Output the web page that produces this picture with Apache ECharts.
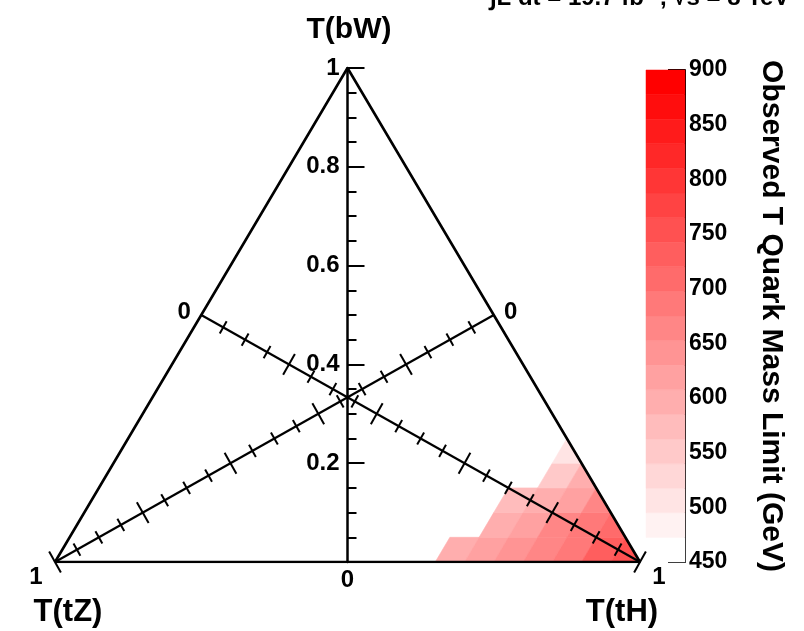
<!DOCTYPE html>
<html>
<head>
<meta charset="utf-8">
<script src="https://cdn.jsdelivr.net/npm/echarts@6/dist/echarts.min.js"></script>
<style>
  html, body { margin: 0; padding: 0; background: #fff; }
  #chart { width: 804px; height: 631px; }
</style>
</head>
<body>
<div id="chart"></div>
<script>
// Ternary plot of T-quark branching fractions (bW, tZ, tH) coloured by the observed mass limit.

// Vertical T(bW) axis labels (0 is drawn below the axis)
const bwTickLabels = ['0.2', '0.4', '0.6', '0.8', '1'];
const bwZeroLabel = '0';

// Tick positions along the two diagonal axes (branching fraction)
const diagTicks = [0.05, 0.1, 0.15, 0.2, 0.25, 0.3, 0.35, 0.4, 0.45, 0.5,
                   0.55, 0.6, 0.65, 0.7, 0.75, 0.8, 0.85, 0.9, 0.95, 1.0];
const diagMajor = [0.2, 0.4, 0.6, 0.8, 1.0];
const diagEndLabels = ['0', '1'];

// Corner titles
const cornerTitles = { bW: 'T(bW)', tZ: 'T(tZ)', tH: 'T(tH)' };

// Colour scale of the observed limit (GeV)
const limitTicks = [450, 500, 550, 600, 650, 700, 750, 800, 850, 900];
const limitLevels = [450, 472.5, 495, 517.5, 540, 562.5, 585, 607.5, 630, 652.5, 675,
                     697.5, 720, 742.5, 765, 787.5, 810, 832.5, 855, 877.5, 900];
const limitTitle = 'Observed T Quark Mass Limit (GeV)';
const lumiText = '\u222BL dt = 19.7 fb\u207B\u00B9, \u221As = 8 TeV';

// Observed limit cells: each row starts at bW = rowBW, columns start at rowStartTH
// and step in tH by cellStep; values in GeV
const cellStep = 0.05;
const rowBW = [0.00, 0.05, 0.10, 0.15, 0.20];
const rowStartTH = [0.65, 0.70, 0.70, 0.75, 0.75];
const rowLimits = [
  [590, 615, 640, 665, 690, 720, 755],
  [600, 625, 655, 685, 715],
  [565, 595, 625, 660],
  [545, 585],
  [515]
];

// Ternary corners (tH, bW) for the frame
const cornerTZ = [0, 0];
const cornerTH = [1, 0];
const cornerBW = [0, 1];

const FONT = '"Liberation Sans", Arial, Helvetica, sans-serif';

// (tH, bW) -> plane coordinates, X = tH - tZ, Y = bW
function toXY(tH, bW) {
  const tZ = 1 - tH - bW;
  return [tH - tZ, bW];
}

function bandIndex(v) {
  for (let i = 0; i < limitLevels.length - 1; i++) {
    if (v < limitLevels[i + 1]) return i;
  }
  return limitLevels.length - 2;
}
function bandColor(i) {
  const n = limitLevels.length - 2;
  const g = Math.round(255 * (1 - i / n));
  return 'rgb(255,' + g + ',' + g + ')';
}

const cellData = [];
rowBW.forEach(function (b, r) {
  rowLimits[r].forEach(function (lim, c) {
    cellData.push([rowStartTH[r] + c * cellStep, b, lim]);
  });
});

const bandData = [];
for (let i = 0; i < limitLevels.length - 1; i++) {
  bandData.push([limitLevels[i], limitLevels[i + 1], i]);
}

function renderCell(params, api) {
  const h0 = api.value(0), b0 = api.value(1);
  const h1 = h0 + cellStep, b1 = b0 + cellStep;
  const poly = [[h0, b0], [h1, b0], [h1, b1], [h0, b1]];
  const out = [];
  const eps = 1e-9;
  for (let i = 0; i < poly.length; i++) {
    const p = poly[i], q = poly[(i + 1) % poly.length];
    const fp = 1 - p[0] - p[1], fq = 1 - q[0] - q[1];
    if (fp >= -eps) out.push(p);
    if ((fp > eps && fq < -eps) || (fp < -eps && fq > eps)) {
      const t = fp / (fp - fq);
      out.push([p[0] + t * (q[0] - p[0]), p[1] + t * (q[1] - p[1])]);
    }
  }
  if (out.length < 3) return null;
  const pts = out.map(function (p) { return api.coord(toXY(p[0], p[1])); });
  const col = bandColor(bandIndex(api.value(2)));
  return { type: 'polygon', shape: { points: pts }, style: { fill: col, stroke: col, lineWidth: 0.6 } };
}

function textEl(x, y, text, size) {
  return {
    type: 'text', x: x, y: y,
    style: {
      text: text, fill: '#000', font: 'bold ' + size + 'px ' + FONT,
      align: 'center', verticalAlign: 'middle', textAlign: 'center', textVerticalAlign: 'middle'
    }
  };
}

function isMajor(v) {
  return diagMajor.some(function (m) { return Math.abs(m - v) < 1e-6; });
}

// One diagonal axis per item: sign +1 for T(tH), -1 for T(tZ)
function renderDiag(params, api) {
  const s = api.value(0);
  const pt = function (v) { return api.coord([s * (3 * v - 1) / 2, (1 - v) / 2]); };
  const p0 = pt(0), p1 = pt(1);
  const dx = p1[0] - p0[0], dy = p1[1] - p0[1], L = Math.hypot(dx, dy);
  const nx = -dy / L, ny = dx / L;
  const children = [{
    type: 'line', shape: { x1: p0[0], y1: p0[1], x2: p1[0], y2: p1[1] },
    style: { stroke: '#000', lineWidth: 2.2 }
  }];
  diagTicks.forEach(function (v) {
    const c = pt(v);
    const half = isMajor(v) ? 12 : 7;
    children.push({
      type: 'line',
      shape: { x1: c[0] - nx * half, y1: c[1] - ny * half, x2: c[0] + nx * half, y2: c[1] + ny * half },
      style: { stroke: '#000', lineWidth: 2 }
    });
  });
  children.push(textEl(p0[0] - s * 17, p0[1] - 3, diagEndLabels[0], 24));
  children.push(textEl(p1[0] + s * 19, p1[1] + 15, diagEndLabels[1], 24));
  return { type: 'group', children: children };
}

function renderZero(params, api) {
  const c = api.coord([api.value(0), api.value(1)]);
  return textEl(c[0], c[1] + 18, bwZeroLabel, 24);
}

function renderBand(params, api) {
  const top = api.coord([0, api.value(1)]);
  const bot = api.coord([1, api.value(0)]);
  const col = bandColor(api.value(2));
  return {
    type: 'rect',
    shape: { x: top[0], y: top[1], width: bot[0] - top[0], height: bot[1] - top[1] },
    style: { fill: col, stroke: col, lineWidth: 0.5 }
  };
}

const frame = [cornerTZ, cornerTH, cornerBW, cornerTZ].map(function (c) { return toXY(c[0], c[1]); });

const chart = echarts.init(document.getElementById('chart'), null, { renderer: 'canvas' });

chart.setOption({
  animation: false,
  backgroundColor: '#fff',
  grid: [
    { left: 55, top: 68, width: 585, height: 494 },
    { left: 646, top: 70, width: 39, height: 492 }
  ],
  xAxis: [
    { gridIndex: 0, type: 'value', min: -1, max: 1, show: false },
    { gridIndex: 1, type: 'value', min: 0, max: 1, show: false }
  ],
  yAxis: [
    {
      gridIndex: 0, type: 'value', min: 0, max: 1, interval: 0.2,
      position: 'left', offset: -292.5,
      axisLine: { show: true, onZero: false, lineStyle: { color: '#000', width: 2.5 } },
      axisTick: { show: true, inside: true, length: 17, lineStyle: { color: '#000', width: 2 } },
      minorTick: { show: true, splitNumber: 4, length: 9, lineStyle: { color: '#000', width: 2 } },
      axisLabel: {
        margin: 8, color: '#000', fontSize: 24, fontWeight: 'bold', fontFamily: FONT,
        formatter: function (v, i) { return i === 0 ? '' : bwTickLabels[i - 1]; }
      },
      splitLine: { show: false }
    },
    {
      gridIndex: 1, type: 'value', min: limitTicks[0], max: limitTicks[limitTicks.length - 1],
      interval: 50, position: 'right',
      name: limitTitle, nameLocation: 'middle', nameRotate: -90, nameGap: 71,
      nameTextStyle: { color: '#000', fontSize: 30, fontWeight: 'bold', fontFamily: FONT },
      axisLine: { show: true, onZero: false, lineStyle: { color: '#000', width: 2 } },
      axisTick: { show: true, inside: true, length: 17, lineStyle: { color: '#000', width: 2 } },
      axisLabel: { margin: 4, color: '#000', fontSize: 23, fontWeight: 'bold', fontFamily: FONT },
      splitLine: { show: false }
    }
  ],
  series: [
    {
      type: 'custom', name: 'limit', xAxisIndex: 0, yAxisIndex: 0,
      renderItem: renderCell, data: cellData, z: 1
    },
    {
      type: 'line', name: 'frame', xAxisIndex: 0, yAxisIndex: 0, data: frame,
      symbol: 'none', lineStyle: { color: '#000', width: 2.6 }, z: 3
    },
    {
      type: 'custom', name: 'diagonals', xAxisIndex: 0, yAxisIndex: 0,
      renderItem: renderDiag, data: [[1], [-1]], z: 4
    },
    {
      type: 'custom', name: 'bwZero', xAxisIndex: 0, yAxisIndex: 0,
      renderItem: renderZero, data: [[0, 0]], z: 4
    },
    {
      type: 'custom', name: 'scale', xAxisIndex: 1, yAxisIndex: 1,
      renderItem: renderBand, data: bandData, z: 1
    }
  ],
  graphic: [
    {
      type: 'text', x: 349, y: 30,
      style: { text: cornerTitles.bW, fill: '#000', font: 'bold 30px ' + FONT,
        align: 'center', verticalAlign: 'middle', textAlign: 'center', textVerticalAlign: 'middle' }
    },
    {
      type: 'text', x: 68, y: 612,
      style: { text: cornerTitles.tZ, fill: '#000', font: 'bold 31px ' + FONT,
        align: 'center', verticalAlign: 'middle', textAlign: 'center', textVerticalAlign: 'middle' }
    },
    {
      type: 'text', x: 622, y: 612,
      style: { text: cornerTitles.tH, fill: '#000', font: 'bold 31px ' + FONT,
        align: 'center', verticalAlign: 'middle', textAlign: 'center', textVerticalAlign: 'middle' }
    },
    {
      type: 'text', x: 490, y: 10,
      style: { text: lumiText, fill: '#000', font: 'bold 24px ' + FONT,
        align: 'left', verticalAlign: 'bottom', textAlign: 'left', textVerticalAlign: 'bottom' }
    }
  ]
});
</script>
</body>
</html>
